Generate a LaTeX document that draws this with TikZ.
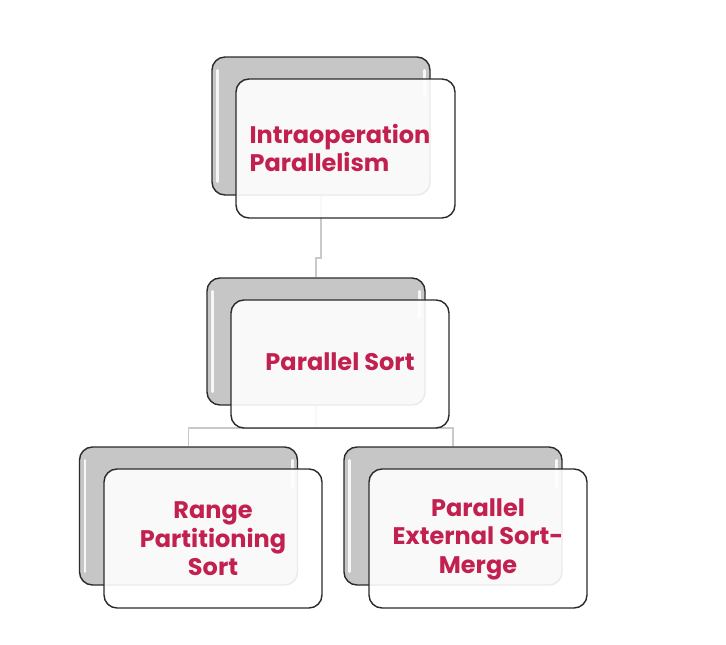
\documentclass[tikz,border=0pt]{standalone}
\usepackage{fontspec}
\setmainfont{Poppins}
\definecolor{boxline}{HTML}{2B2B2B}
\definecolor{backgrey}{HTML}{C6C6C6}
\definecolor{connline}{HTML}{C9C9C9}
\definecolor{crimson}{HTML}{C2204F}
\begin{document}
\begin{tikzpicture}[x=1pt,y=-1pt,
  backbox/.style={draw=boxline, line width=1.4pt, rounded corners=13pt, fill=backgrey, minimum width=218pt, minimum height=138pt, inner sep=0pt},
  frontbox/.style={draw=boxline, line width=1.4pt, rounded corners=13pt, fill=white, fill opacity=0.9, text opacity=1, minimum width=218pt, minimum height=139pt, inner sep=0pt},
  lbl/.style={text=crimson, font=\bfseries\fontsize{24}{28.5}\selectfont, align=center},
  conn/.style={draw=connline, line width=1.3pt},
  shine/.style={draw=white, line width=2.6pt, line cap=round, opacity=0.85}]
\useasboundingbox (0,0) rectangle (726,645);
% jog levels
\coordinate (j1) at (0,258);
\coordinate (j2) at (0,428);
% back boxes
\node[backbox] (tb) at (321,126) {};
\node[backbox, minimum height=127pt] (mb) at (316,341.5) {};
\node[backbox] (lb) at (188.5,516) {};
\node[backbox] (rb) at (453,516) {};
% highlights on back boxes
\foreach \b in {tb,mb,lb,rb}{
  \draw[shine] ([xshift=6pt,yshift=-14pt]\b.north west) -- ([xshift=6pt,yshift=14pt]\b.south west);
  \draw[shine] ([xshift=-6pt,yshift=-14pt]\b.north east) -- ([xshift=-6pt,yshift=-40pt]\b.north east);
}
% connectors
\draw[conn] (tb.south) -- (tb.south |- j1) -| (mb.north);
\draw[conn] (mb.south) -- (mb.south |- j2);
\draw[conn] (lb.north) -- (lb.north |- j2) -- (rb.north |- j2) -- (rb.north);
% front boxes
\node[frontbox, minimum width=219pt] (tf) at (345.5,148.5) {};
\node[frontbox, minimum height=128pt] (mf) at (340,364) {};
\node[frontbox] (lf) at (213,538.5) {};
\node[frontbox] (rf) at (478,538.5) {};
% labels
\node[lbl, align=left] (tl) at (340,148) {Intraoperation\\Parallelism};
\node[lbl] (ml) at (340,362) {Parallel Sort};
\node[lbl] (ll) at (213,539) {Range\\Partitioning\\Sort};
\node[lbl] (rl) at (478,539) {Parallel\\External Sort-\\Merge};
\end{tikzpicture}
\end{document}
